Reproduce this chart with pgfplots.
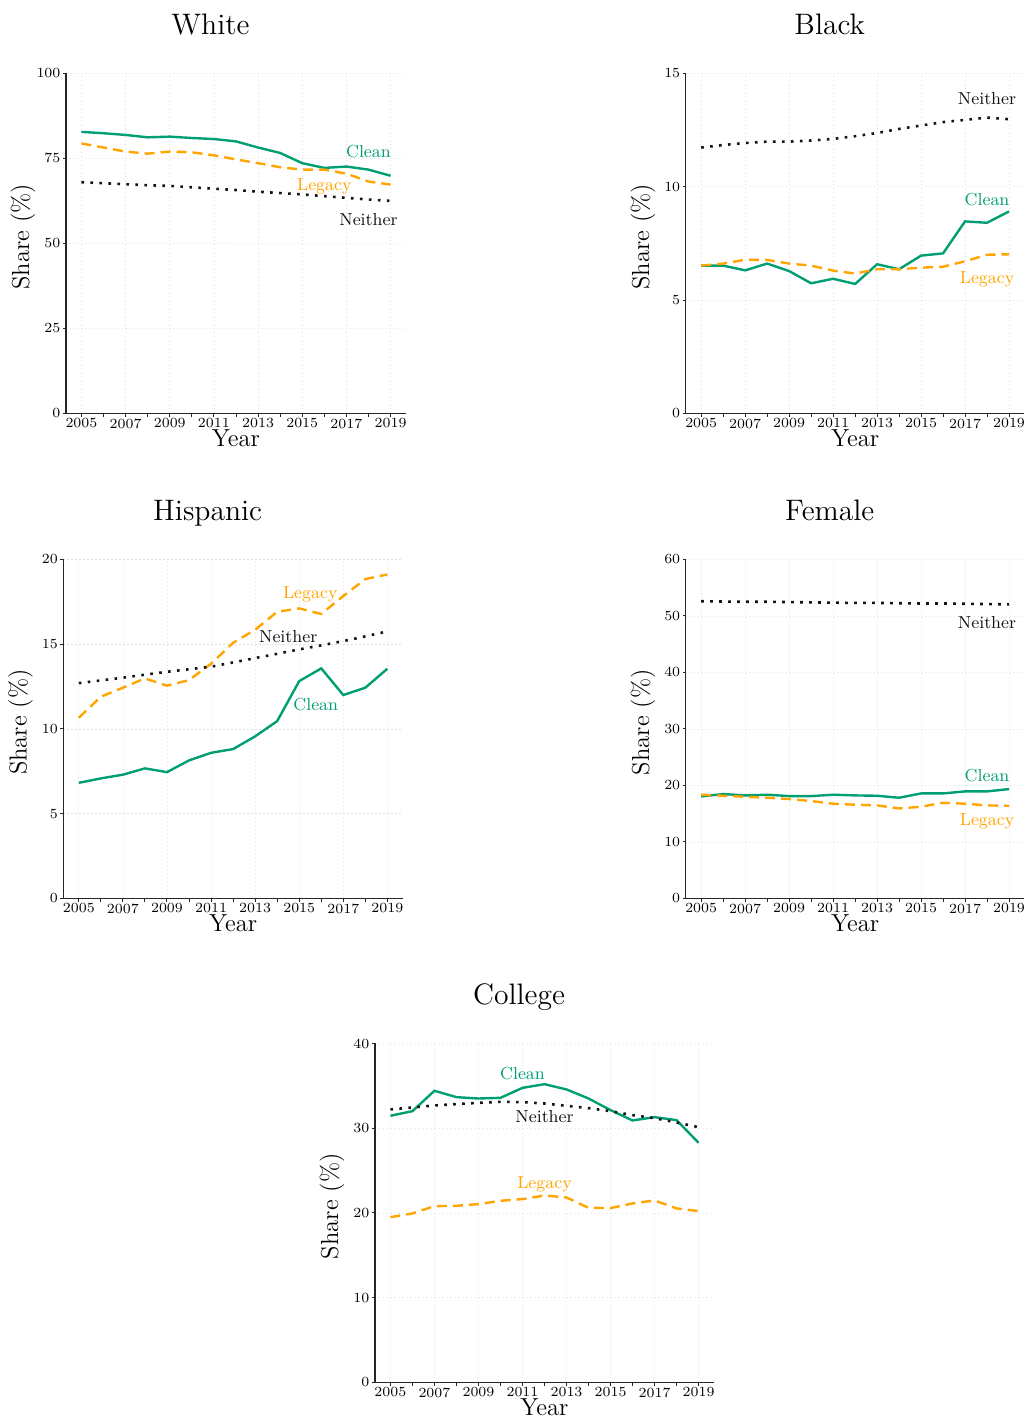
\documentclass[border=0pt]{standalone}
\usepackage{fontspec}
\usepackage{pgfplots}
\pgfplotsset{compat=1.18}

\definecolor{cleanc}{RGB}{0,158,115}
\definecolor{legacyc}{RGB}{255,165,0}
\definecolor{neitherc}{RGB}{20,20,20}

\tikzset{lab/.style={font=\fontsize{8.7}{10}\selectfont}}

\pgfplotsset{
  panel/.style={
    scale only axis, width=169.5pt, height=170pt,
    xmin=2004.3, xmax=2019.7, ymin=0,
    axis x line*=bottom, axis y line*=left,
    axis line style={black!85, line width=0.6pt},
    xtick={2005,2007,...,2019}, minor xtick={2006,2008,...,2018},
    tick align=outside, major tick length=1.6pt, minor tick length=1.6pt,
    tick style={black!85, line width=0.5pt},
    /pgf/number format/assume math mode=true,
    x tick label style={/pgf/number format/1000 sep={}, font=\fontsize{7}{8}\selectfont, inner sep=0.8pt},
    y tick label style={font=\fontsize{7}{8}\selectfont, inner sep=1pt},
    xmajorgrids, ymajorgrids,
    major grid style={gray!25, line width=0.4pt, dash pattern=on 0.6pt off 1.4pt},
    xlabel={Year}, ylabel={Share (\%)},
    xlabel style={at={(axis description cs:0.5,0)}, anchor=base, yshift=-16.7pt, font=\fontsize{12.3}{14}\selectfont},
    ylabel style={at={([xshift=-18.4pt]axis description cs:0,0.52)}, anchor=base, font=\fontsize{12.3}{14}\selectfont},
    title style={at={(axis description cs:0.425,1)}, anchor=base, yshift=13.5pt, font=\fontsize{14.8}{17}\selectfont},
  },
  clean/.style={color=cleanc, line width=1.2pt, solid},
  legacy/.style={color=legacyc, line width=1.2pt, dash pattern=on 5pt off 3pt},
  neither/.style={color=neitherc, line width=1.3pt, dash pattern=on 1.3pt off 3.2pt},
}

\begin{document}
\begin{tikzpicture}
\useasboundingbox (0,0) rectangle (514pt,-709pt);

% ---------------- White ----------------
\begin{axis}[panel, at={(33pt,-206.7pt)}, anchor=south west, width=170pt,
  ymax=100, ytick={0,25,50,75,100}, title={White}]
\addplot[clean] coordinates {(2005,82.8)(2006,82.4)(2007,81.9)(2008,81.2)(2009,81.4)(2010,81.0)(2011,80.7)(2012,80.0)(2013,78.2)(2014,76.6)(2015,73.6)(2016,72.2)(2017,72.6)(2018,71.7)(2019,69.9)};
\addplot[legacy] coordinates {(2005,79.4)(2006,78.2)(2007,77.0)(2008,76.4)(2009,77.0)(2010,76.8)(2011,75.9)(2012,74.7)(2013,73.6)(2014,72.4)(2015,71.7)(2016,71.7)(2017,70.5)(2018,68.2)(2019,67.3)};
\addplot[neither] coordinates {(2005,68.0)(2006,67.7)(2007,67.4)(2008,67.1)(2009,66.9)(2010,66.5)(2011,66.1)(2012,65.7)(2013,65.2)(2014,64.8)(2015,64.4)(2016,63.9)(2017,63.4)(2018,62.9)(2019,62.5)};
\node[lab, text=cleanc] at (axis cs:2018,76.9) {Clean};
\node[lab, text=legacyc] at (axis cs:2016,66.8) {Legacy};
\node[lab, text=neitherc] at (axis cs:2018,57.1) {Neither};
\end{axis}

% ---------------- Black ----------------
\begin{axis}[panel, at={(342.9pt,-206.7pt)}, anchor=south west, width=169.3pt,
  ymax=15, ytick={0,5,10,15}, title={Black}]
\addplot[clean] coordinates {(2005,6.52)(2006,6.52)(2007,6.31)(2008,6.61)(2009,6.28)(2010,5.74)(2011,5.94)(2012,5.71)(2013,6.58)(2014,6.36)(2015,6.96)(2016,7.06)(2017,8.47)(2018,8.41)(2019,8.91)};
\addplot[legacy] coordinates {(2005,6.52)(2006,6.61)(2007,6.78)(2008,6.77)(2009,6.61)(2010,6.52)(2011,6.30)(2012,6.17)(2013,6.36)(2014,6.36)(2015,6.43)(2016,6.47)(2017,6.71)(2018,7.00)(2019,7.02)};
\addplot[neither] coordinates {(2005,11.73)(2006,11.84)(2007,11.93)(2008,11.99)(2009,11.99)(2010,12.04)(2011,12.11)(2012,12.23)(2013,12.37)(2014,12.55)(2015,12.70)(2016,12.85)(2017,12.95)(2018,13.05)(2019,12.98)};
\node[lab, text=neitherc] at (axis cs:2018,13.9) {Neither};
\node[lab, text=cleanc] at (axis cs:2018,9.45) {Clean};
\node[lab, text=legacyc] at (axis cs:2018,5.92) {Legacy};
\end{axis}

% ---------------- Hispanic ----------------
\begin{axis}[panel, at={(31.7pt,-449.2pt)}, anchor=south west, width=169.7pt, height=169.5pt,
  ymax=20, ytick={0,5,10,15,20}, title={Hispanic}]
\addplot[clean] coordinates {(2005,6.82)(2006,7.08)(2007,7.30)(2008,7.67)(2009,7.45)(2010,8.14)(2011,8.59)(2012,8.81)(2013,9.56)(2014,10.46)(2015,12.82)(2016,13.57)(2017,12.00)(2018,12.43)(2019,13.55)};
\addplot[legacy] coordinates {(2005,10.66)(2006,11.90)(2007,12.43)(2008,12.98)(2009,12.55)(2010,12.88)(2011,13.84)(2012,15.08)(2013,15.85)(2014,16.91)(2015,17.11)(2016,16.78)(2017,17.84)(2018,18.84)(2019,19.11)};
\addplot[neither] coordinates {(2005,12.70)(2006,12.86)(2007,13.02)(2008,13.20)(2009,13.37)(2010,13.52)(2011,13.67)(2012,13.92)(2013,14.18)(2014,14.43)(2015,14.69)(2016,14.93)(2017,15.18)(2018,15.46)(2019,15.75)};
\node[lab, text=legacyc] at (axis cs:2015.5,17.95) {Legacy};
\node[lab, text=neitherc] at (axis cs:2014.5,15.47) {Neither};
\node[lab, text=cleanc] at (axis cs:2015.75,11.46) {Clean};
\end{axis}

% ---------------- Female ----------------
\begin{axis}[panel, at={(342.9pt,-449.2pt)}, anchor=south west, width=169.3pt, height=169.5pt,
  ymax=60, ytick={0,10,...,60}, title={Female}]
\addplot[clean] coordinates {(2005,18.05)(2006,18.47)(2007,18.23)(2008,18.35)(2009,18.11)(2010,18.11)(2011,18.35)(2012,18.23)(2013,18.17)(2014,17.82)(2015,18.58)(2016,18.58)(2017,18.94)(2018,18.94)(2019,19.35)};
\addplot[legacy] coordinates {(2005,18.35)(2006,18.17)(2007,17.99)(2008,17.82)(2009,17.58)(2010,17.23)(2011,16.76)(2012,16.58)(2013,16.46)(2014,15.93)(2015,16.22)(2016,16.93)(2017,16.76)(2018,16.46)(2019,16.40)};
\addplot[neither] coordinates {(2005,52.60)(2006,52.55)(2007,52.50)(2008,52.50)(2009,52.45)(2010,52.40)(2011,52.35)(2012,52.30)(2013,52.30)(2014,52.25)(2015,52.20)(2016,52.20)(2017,52.15)(2018,52.10)(2019,52.05)};
\node[lab, text=neitherc] at (axis cs:2018,48.9) {Neither};
\node[lab, text=cleanc] at (axis cs:2018,21.8) {Clean};
\node[lab, text=legacyc] at (axis cs:2018,13.7) {Legacy};
\end{axis}

% ---------------- College ----------------
\begin{axis}[panel, at={(187.5pt,-691.2pt)}, anchor=south west, width=169.5pt, height=169.5pt,
  ymax=40, ytick={0,10,...,40}, title={College}]
\addplot[clean] coordinates {(2005,31.46)(2006,32.01)(2007,34.41)(2008,33.66)(2009,33.50)(2010,33.58)(2011,34.76)(2012,35.19)(2013,34.57)(2014,33.50)(2015,32.13)(2016,30.91)(2017,31.30)(2018,30.95)(2019,28.27)};
\addplot[legacy] coordinates {(2005,19.50)(2006,19.94)(2007,20.80)(2008,20.84)(2009,21.04)(2010,21.43)(2011,21.63)(2012,22.06)(2013,21.82)(2014,20.60)(2015,20.57)(2016,21.12)(2017,21.47)(2018,20.53)(2019,20.21)};
\addplot[neither] coordinates {(2005,32.21)(2006,32.44)(2007,32.68)(2008,32.84)(2009,32.99)(2010,33.11)(2011,33.07)(2012,32.91)(2013,32.64)(2014,32.36)(2015,32.01)(2016,31.54)(2017,31.18)(2018,30.67)(2019,30.12)};
\node[lab, text=cleanc] at (axis cs:2011,36.4) {Clean};
\node[lab, text=neitherc] at (axis cs:2012,31.4) {Neither};
\node[lab, text=legacyc] at (axis cs:2012,23.4) {Legacy};
\end{axis}
\end{tikzpicture}
\end{document}
